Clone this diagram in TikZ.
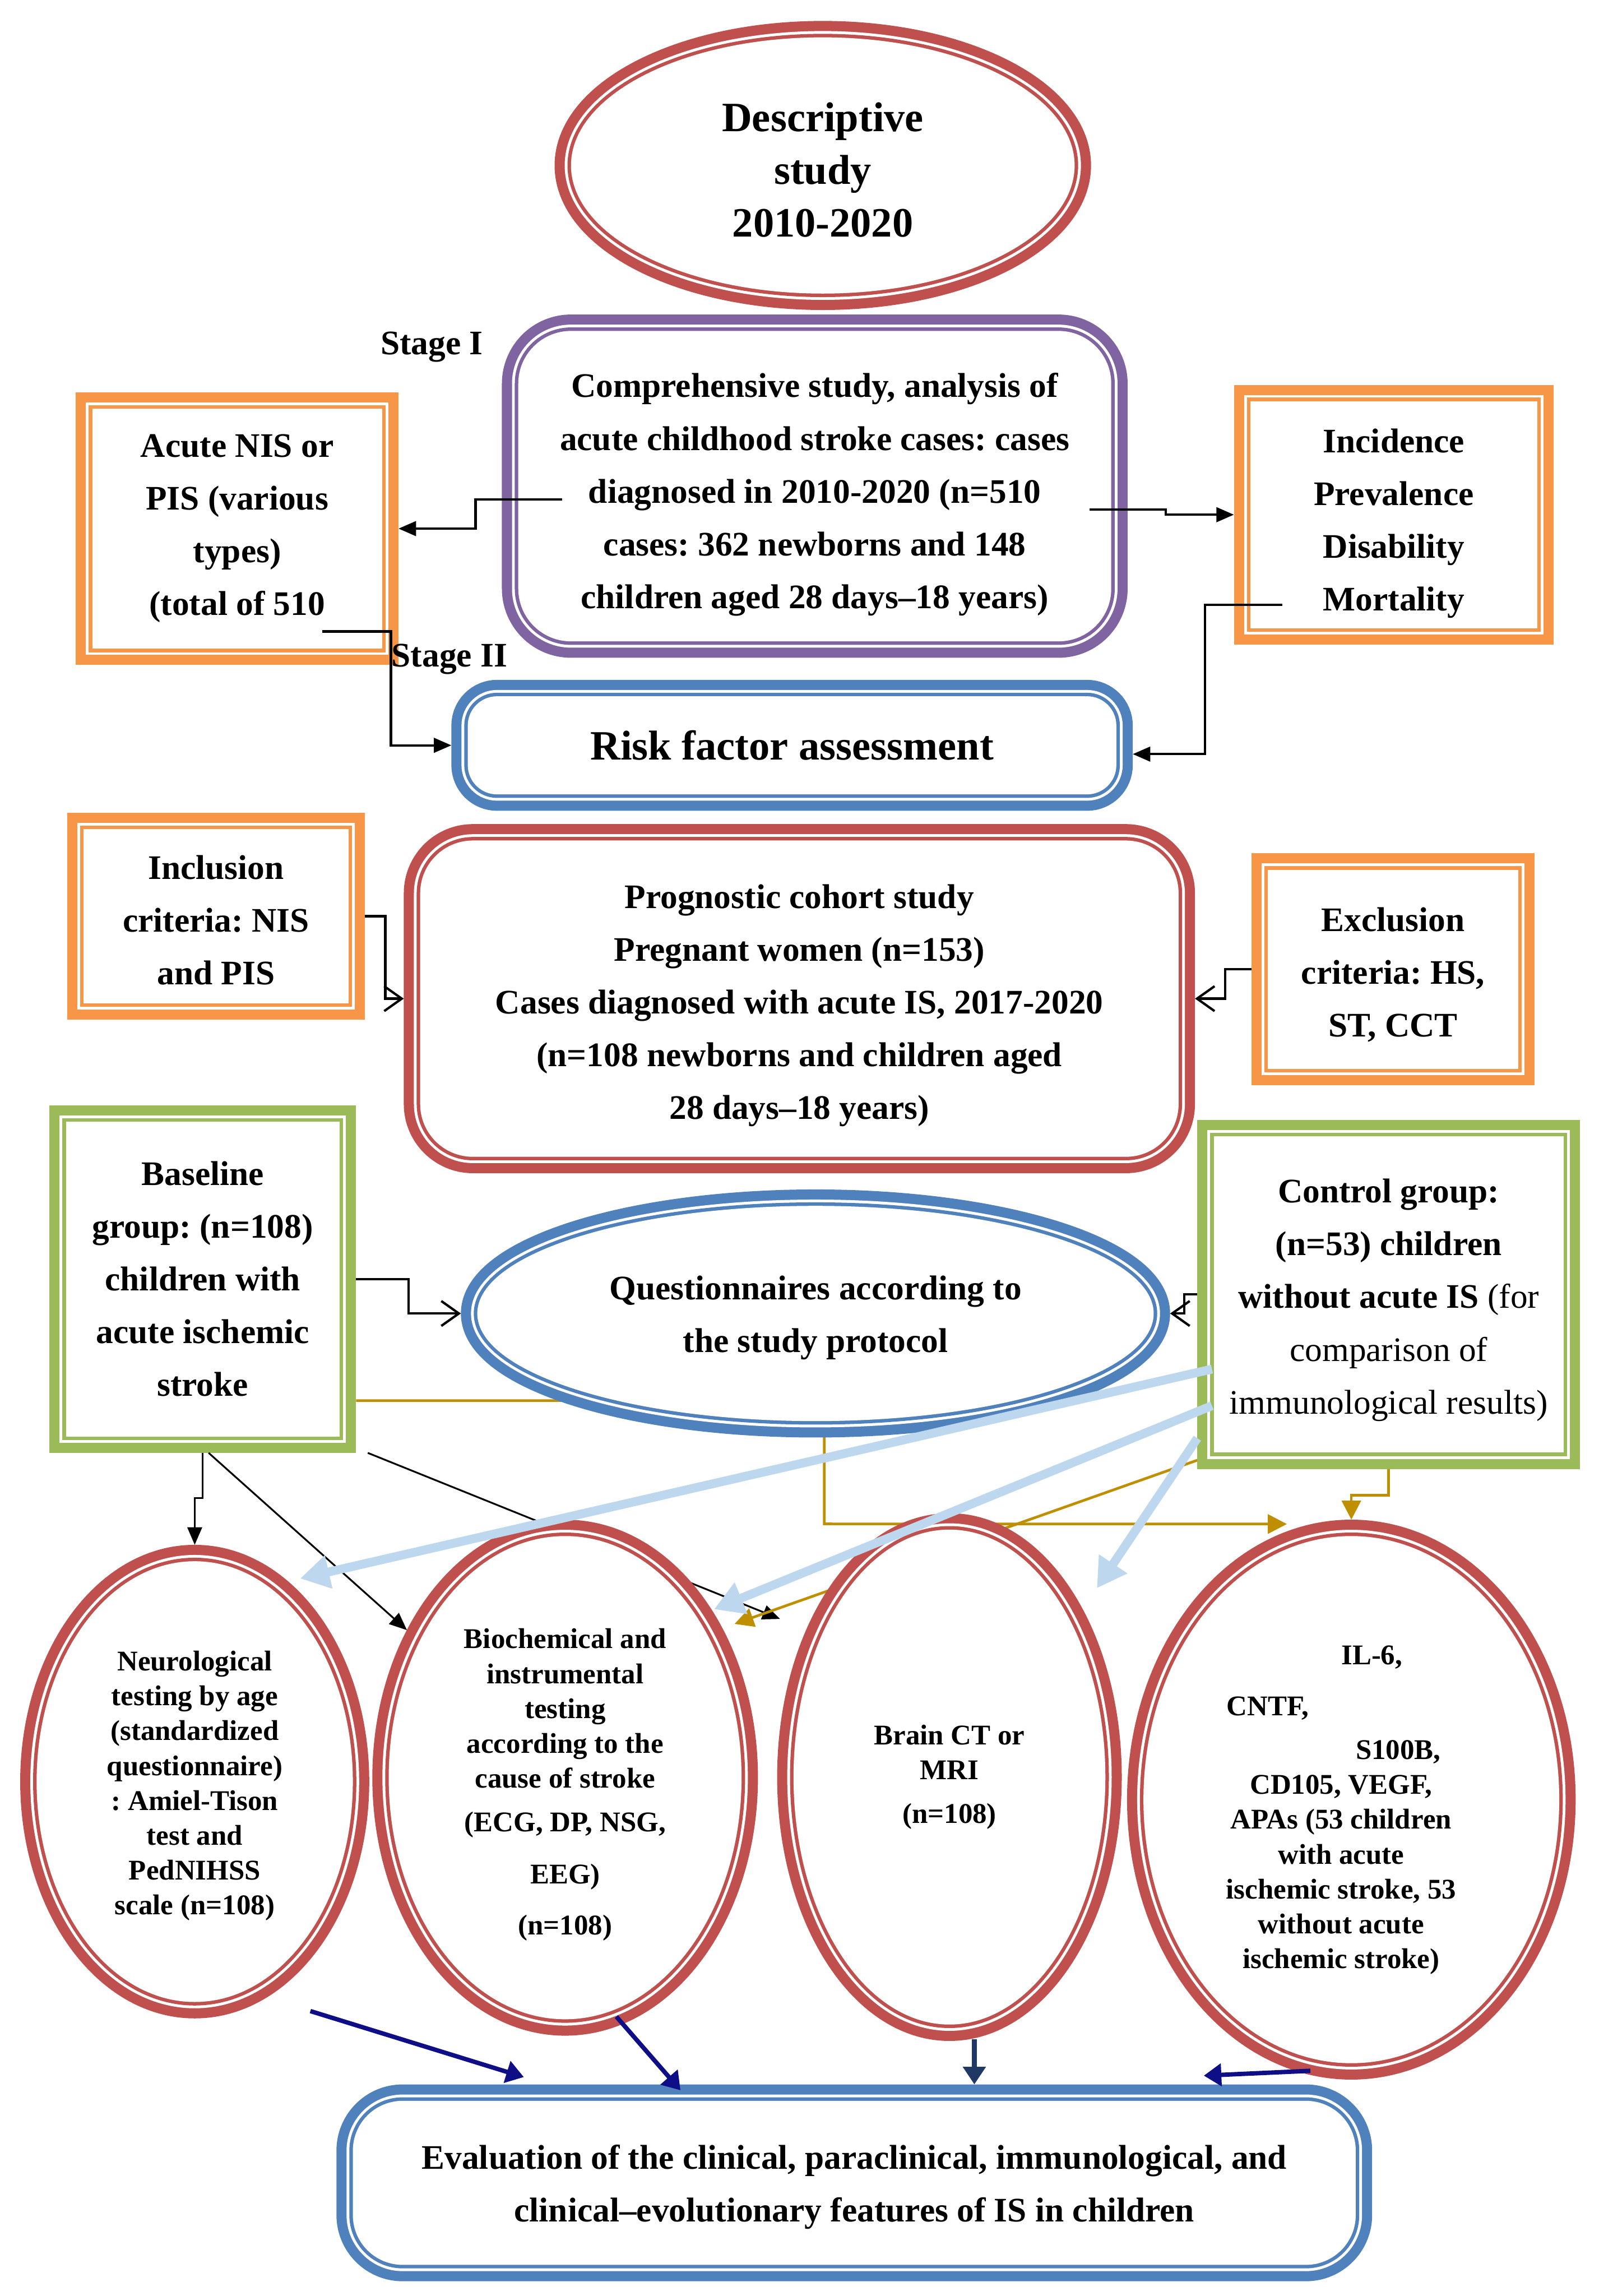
\documentclass[tikz,border=0pt]{standalone}
\usepackage{fontspec}
\setmainfont{Liberation Serif}
\usetikzlibrary{arrows.meta,shapes.geometric,calc}
\pgfdeclarelayer{back}
\pgfsetlayers{back,main}
\frenchspacing

\definecolor{boxred}{HTML}{C0504D}
\definecolor{boxpurple}{HTML}{8064A2}
\definecolor{boxorange}{HTML}{F79646}
\definecolor{boxblue}{HTML}{4F81BD}
\definecolor{boxgreen}{HTML}{9BBB59}
\definecolor{paleblue}{HTML}{BDD7EE}
\definecolor{gold}{HTML}{BF8F00}
\definecolor{navy}{HTML}{0E0E86}
\definecolor{darknavy}{HTML}{1F3864}

\newcommand{\bodyfont}{\fontsize{23.5}{36}\selectfont\bfseries}
\newcommand{\titlefont}{\fontsize{28.5}{36}\selectfont\bfseries}
\newcommand{\ovalfont}{\fontsize{19.5}{23.8}\selectfont\bfseries}
\newcommand{\dropby}[1]{\rule{0pt}{#1}}

\tikzset{
  dblbox/.style={fill=white, inner sep=0pt, outer sep=11.2pt, align=center, font=\bodyfont,
    preaction={draw=#1, line width=22.4pt},
    preaction={draw=white, line width=8.6pt},
    preaction={draw=#1, line width=4.8pt}},
  sqbox/.style={dblbox=#1, rectangle},
  rbox/.style={dblbox=#1, rectangle, rounded corners=36pt},
  oval/.style={dblbox=#1, ellipse},
  blk/.style={black, line width=1.6pt, -{Triangle[length=12pt,width=10pt]}},
  thinblk/.style={black, line width=1.2pt, -{Triangle[length=12pt,width=10pt]}},
  opn/.style={black, line width=1.6pt, -{Straight Barb[length=12pt,width=17pt]}},
  gld/.style={gold, line width=1.8pt, -{Triangle[length=13pt,width=13pt]}},
  pale/.style={paleblue, line width=6pt, -{Triangle[length=20pt,width=22pt]}},
  nvy/.style={navy, line width=3pt, -{Triangle[length=12pt,width=15pt]}},
}

\begin{document}
\begin{tikzpicture}[x=1pt, y=-1pt]
	\useasboundingbox (0,0) rectangle (1092,1568);

	% stage I
	\node[oval=boxred, minimum width=344pt, minimum height=175pt, font=\titlefont] (desc) at (562,113) {\dropby{25.5pt}Descriptive\\study\\2010-2020};
	\node[rbox=boxpurple, minimum width=405pt, minimum height=212pt] (comp) at (556.5,332) {\dropby{28pt}Comprehensive study, analysis of\\acute childhood stroke cases: cases\\diagnosed in 2010-2020 (n=510\\cases: 362 newborns and 148\\children aged 28 days--18 years)};
	\node[sqbox=boxorange, minimum width=198pt, minimum height=164pt] (acute) at (162,361) {Acute NIS or\\PIS (various\\types)\\(total of 510};
	\node[sqbox=boxorange, minimum width=196pt, minimum height=155pt] (inc) at (952,351.5) {\dropby{28pt}Incidence\\Prevalence\\Disability\\Mortality};
	\node[rbox=boxblue, rounded corners=20pt, minimum width=443pt, minimum height=67pt, font=\titlefont] (risk) at (541,509) {Risk factor assessment};
	\node[font=\bodyfont] (stageI) at (295,237) {Stage I};
	\node[font=\bodyfont] (stageII) at (307,450) {Stage II};

	% stage II
	\node[sqbox=boxorange, minimum width=181pt, minimum height=119pt] (incl) at (147.5,625.7) {\dropby{22pt}Inclusion\\criteria: NIS\\and PIS};
	\node[rbox=boxred, minimum width=518pt, minimum height=216pt] (prog) at (546,682) {\dropby{26pt}Prognostic cohort study\\Pregnant women (n=153)\\Cases diagnosed with acute IS, 2017-2020\\(n=108 newborns and children aged\\28 days--18 years)};
	\node[sqbox=boxorange, minimum width=171pt, minimum height=136pt] (excl) at (951.5,662) {\dropby{24pt}Exclusion\\criteria: HS,\\ST, CCT};
	\node[sqbox=boxgreen, minimum width=187pt, minimum height=215pt] (base) at (138.5,873.5) {Baseline\\group: (n=108)\\children with\\acute ischemic\\stroke};
	\node[oval=boxblue, minimum width=462pt, minimum height=147pt] (quest) at (557,897) {\dropby{22pt}Questionnaires according to\\the study protocol};
	\node[sqbox=boxgreen, minimum width=239pt, minimum height=216pt] (ctrl) at (948.5,884) {\dropby{24pt}Control group:\\(n=53) children\\without acute IS {\mdseries(for}\\{\mdseries comparison of}\\{\mdseries immunological results)}};

	\node[oval=boxred, minimum width=216pt, minimum height=301pt, font=\ovalfont] (neuro) at (133,1216.7) {\dropby{19.3pt}Neurological\\testing by age\\(standardized\\questionnaire)\\: Amiel-Tison\\test and\\PedNIHSS\\scale (n=108)};
	\node[oval=boxred, minimum width=241pt, minimum height=330pt, font=\ovalfont] (bio) at (386,1214) {\dropby{23.3pt}Biochemical and\\instrumental\\testing\\according to the\\cause of stroke\\[6pt](ECG, DP, NSG,\\[12pt]EEG)\\[11pt](n=108)};
	\node[oval=boxred, minimum width=213pt, minimum height=338pt, font=\ovalfont] (brain) at (648.5,1213.6) {Brain CT or\\MRI\\[6pt](n=108)};
	\node[oval=boxred, minimum width=284pt, minimum height=360pt, font=\ovalfont] (il6) at (923,1229) {\dropby{27.3pt}\hspace*{28pt}IL-6,\\[11pt]\hspace*{-114pt}CNTF,\\[6pt]\hspace*{64pt}S100B,\\\hspace*{-14pt}CD105, VEGF,\\\hspace*{-14pt}APAs (53 children\\\hspace*{-14pt}with acute\\\hspace*{-14pt}ischemic stroke, 53\\\hspace*{-14pt}without acute\\\hspace*{-14pt}ischemic stroke)};
	\node[rbox=boxblue, rounded corners=34pt, minimum width=685pt, minimum height=112pt] (eval) at (583.5,1490.7) {\dropby{22pt}Evaluation of the clinical, paraclinical, immunological, and\\clinical--evolutionary features of IS in children};

	% connectors
	\draw[blk] ($(comp.west)+(41,9)$) -- ++(-59,0) |- (acute.east);
	\draw[blk] ($(comp.east)+(-26,16)$) -- ++(52,0) |- (inc.west);
	\draw[blk] ($(acute.south)+(58,-23)$) -- ++(47,0) |- (risk.west);
	\draw[blk] ($(inc.south)+(-76,-27)$) -- ++(-53,0) |- ($(risk.east)+(0,6)$);
	\draw[opn] (incl.east) -- ++(14,0) |- (prog.west);
	\draw[opn] (excl.west) -- ++(-18,0) |- (prog.east);
	\draw[opn] (base.east) -- ++(36,0) |- (quest.west);
	\draw[opn] (ctrl.west) -- ++(-9,0) |- (quest.east);

	\begin{pgfonlayer}{back}
		\draw[gld] ($(base.east)+(0,83)$) -| ($(quest.south)+(6,59)$) -- ($(il6.north)+(-44,3)$);
		\draw[thinblk] ($(base.south east)+(8,0)$) -- ($(brain.west)+(2,-108)$);
		\draw[gld] ($(ctrl.south west)+(0,-6)$) -- ($(bio.east)+(-16,-105)$);
	\end{pgfonlayer}
	\draw[thinblk] (base.south) -- ++(0,31) -| (neuro.north);
	\draw[thinblk] ($(base.south)+(4,0)$) -- (bio.137);
	\draw[gld] (ctrl.south) -- ++(0,18) -| (il6.north);

	\draw[pale] ($(ctrl.west)+(10,51)$) -- ($(neuro.north)+(72,23)$);
	\draw[pale] ($(ctrl.west)+(10,76)$) -- ($(bio.east)+(-30,-115)$);
	\draw[pale] ($(ctrl.south west)+(0,-21)$) -- ($(brain.east)+(-17,-129)$);

	\draw[nvy] ($(neuro.south)+(79,-5)$) -- ($(eval.north west)+(128,-5)$);
	\draw[nvy] ($(bio.south)+(35,-13)$) -- ($(eval.north west)+(235,4)$);
	\coordinate (n3) at ($(brain.south)+(17,-1)$);
	\draw[nvy, darknavy, line width=3.6pt] (n3) -- (n3 |- eval.north);
	\draw[nvy] ($(il6.south)+(-28,-6)$) -- ($(eval.north east)+(-115,-6)$);
\end{tikzpicture}
\end{document}
